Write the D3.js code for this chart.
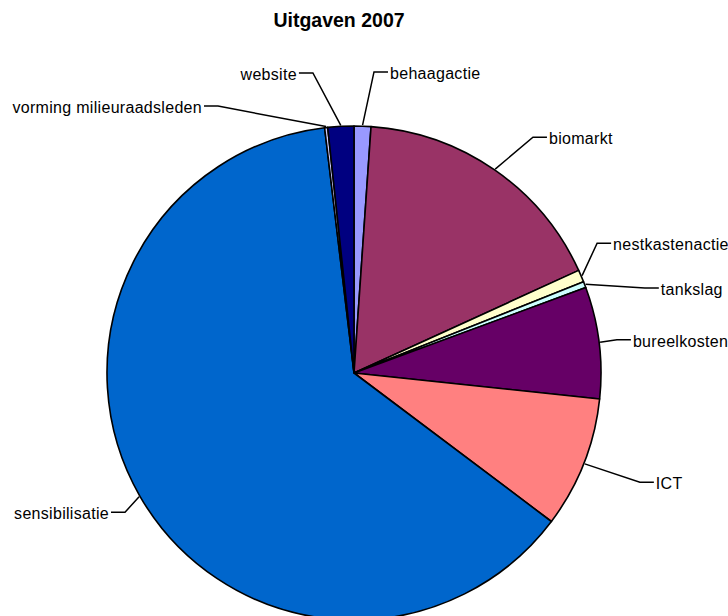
<!DOCTYPE html>
<html><head><meta charset="utf-8">
<script src="https://cdn.jsdelivr.net/npm/d3@7"></script>
<style>body{margin:0;background:#fff}svg{display:block}</style>
</head><body>
<script>
const title = "Uitgaven 2007";
const categories = ["behaagactie","biomarkt","nestkastenactie","tankslag","bureelkosten","ICT","sensibilisatie","vorming milieuraadsleden","website"];
const values = [1.1, 17.1, 0.8, 0.4, 7.3, 8.6, 62.9, 0.2, 1.7];
const colors = ["#9999FF","#993366","#FFFFCC","#CCFFFF","#660066","#FF8080","#0066CC","#CCCCFF","#000080"];
// label elbow layout: angle (deg, clockwise from top) and radius
const labelAngle = [3.8, 37.2, 61.9, 73.7, 82.8, 110.9, 238.7, 333, 352.2];
const labelRadius = [301.7, 296, 275.6, 303, 265, 306, 268, 299.6, 302.8];

const W = 728, H = 616, cx = 354, cy = 373, R = 247;
const svg = d3.select("body").append("svg").attr("width", W).attr("height", H);
svg.append("text").attr("x", 339).attr("y", 27).attr("text-anchor","middle")
  .attr("font-family","Liberation Sans, Arial, sans-serif").attr("font-weight","bold")
  .attr("font-size", 19.5).text(title);

const data = categories.map((c,i)=>({name:c, value:values[i], color:colors[i], la:labelAngle[i], lr:labelRadius[i]}));
const pie = d3.pie().sort(null).value(d=>d.value).startAngle(0).endAngle(2*Math.PI);
const arcs = pie(data);
const arc = d3.arc().innerRadius(0).outerRadius(R);
const g = svg.append("g").attr("transform", `translate(${cx},${cy})`);
g.selectAll("path.slice").data(arcs).join("path").attr("class","slice")
  .attr("d", arc).attr("fill", d=>d.data.color)
  .attr("stroke","#000").attr("stroke-width",1.6).attr("stroke-linejoin","round");

const pt = (a, r) => [r*Math.sin(a), -r*Math.cos(a)];
arcs.forEach(d=>{
  const mid = (d.startAngle + d.endAngle)/2;
  const s = pt(mid, R + 1);
  const e = pt(d.data.la*Math.PI/180, d.data.lr);
  const right = e[0] >= 0;
  const h = [e[0] + (right ? 14 : -14), e[1]];
  g.append("polyline").attr("points", [s,e,h].map(p=>p.join(",")).join(" "))
    .attr("fill","none").attr("stroke","#000").attr("stroke-width",1.5);
  g.append("text").attr("x", h[0] + (right ? 2 : -2)).attr("y", h[1]).attr("dy","0.42em")
    .attr("text-anchor", right ? "start" : "end")
    .attr("font-family","Liberation Sans, Arial, sans-serif").attr("font-size",16)
    .attr("letter-spacing","0.3px").attr("fill","#000").text(d.data.name);
});
</script>
</body></html>
